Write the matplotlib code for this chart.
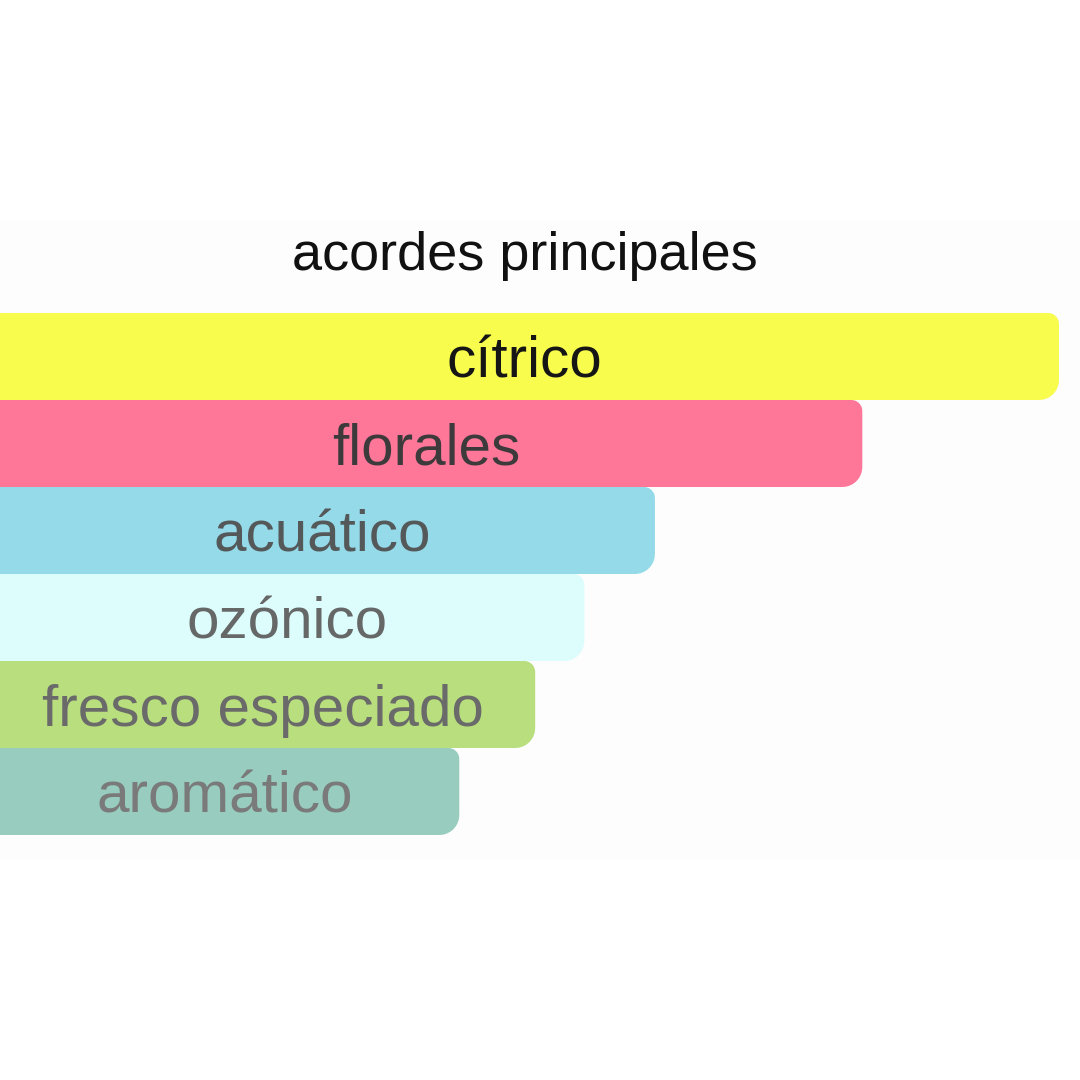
import numpy as np
import matplotlib
matplotlib.use("Agg")
import matplotlib.pyplot as plt
from matplotlib.path import Path
from matplotlib.patches import PathPatch, Rectangle

plt.rcParams["font.family"] = ["Liberation Sans", "DejaVu Sans"]

title = "acordes principales"
accords = ["cítrico", "florales", "acuático", "ozónico", "fresco especiado", "aromático"]
strength = [100, 81.6, 62.2, 55.6, 51.0, 43.9]
bar_colors = ["#f8fc4c", "#fe7799", "#94dae9", "#dcfdfc", "#b8de7e", "#97ccbe"]
text_colors = ["#151515", "#3d3a3c", "#555859", "#666868", "#6a6a6a", "#7a7a7a"]

W = H = 1080
px_per_unit = 1069 / 100.0   # x scale, pixels per value unit
row_px = 87.0                # one bar row in pixels
first_center = 356.5         # pixel row of first bar centre (from top)


def right_rounded_bar(ax, y, width, height, r_top, r_bot, **kw):
    # rectangle from x=0 to width, rounded only on the right side
    rxt, ryt = r_top / px_per_unit, r_top / row_px
    rxb, ryb = r_bot / px_per_unit, r_bot / row_px
    top, bot = y - height / 2, y + height / 2   # y axis inverted
    verts = [(0, bot), (0, top), (width - rxt, top)]
    t = np.linspace(-np.pi / 2, 0, 12)
    verts += [(width - rxt + rxt * np.cos(a), top + ryt + ryt * np.sin(a)) for a in t]
    t = np.linspace(0, np.pi / 2, 12)
    verts += [(width - rxb + rxb * np.cos(a), bot - ryb + ryb * np.sin(a)) for a in t]
    verts += [(0, bot)]
    patch = PathPatch(Path(verts), lw=0, **kw)
    ax.add_patch(patch)
    return patch


fig = plt.figure(figsize=(W / 100, H / 100), dpi=100)
fig.patch.set_facecolor("white")

ax = fig.add_axes([0, 0, 1, 1])
ax.set_facecolor("none")
ax.set_xlim(10 / px_per_unit, (W + 10) / px_per_unit)
ax.set_ylim((H - first_center) / row_px, -first_center / row_px)
ax.axis("off")

# faint panel behind the chart
ax.add_patch(Rectangle((0, 1 - 860 / H), 1, (860 - 220) / H,
                       transform=fig.transFigure, facecolor="#fdfdfd",
                       edgecolor="none", zorder=-10))

for i, (name, val, col, tc) in enumerate(zip(accords, strength, bar_colors, text_colors)):
    right_rounded_bar(ax, i, val, 1.0, 11, 20, facecolor=col, zorder=1)
    ax.text(val / 2, i + 0.07, name, ha="center", va="center",
            fontsize=42, color=tc, zorder=2)

ax.text(50, -1.15, title, ha="center", va="center", fontsize=39, color="#111111")

fig.savefig("out.png", dpi=100)
